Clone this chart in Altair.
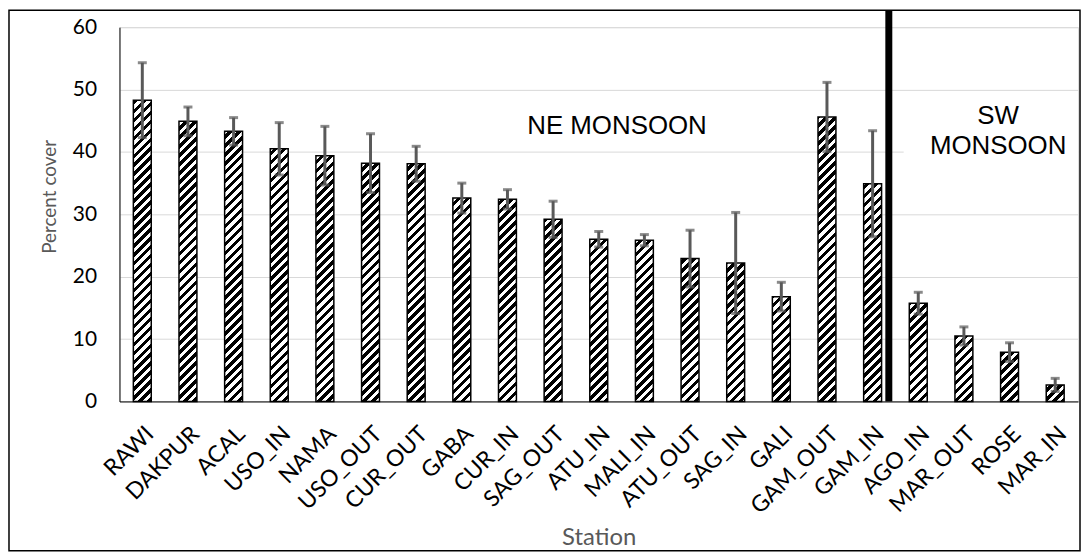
import math
import altair as alt
import pandas as pd

# ---------------- data ----------------
stations = ["RAWI", "DAKPUR", "ACAL", "USO_IN", "NAMA", "USO_OUT", "CUR_OUT",
            "GABA", "CUR_IN", "SAG_OUT", "ATU_IN", "MALI_IN", "ATU_OUT", "SAG_IN",
            "GALI", "GAM_OUT", "GAM_IN", "AGO_IN", "MAR_OUT", "ROSE", "MAR_IN"]
cover = [48.3, 44.9, 43.3, 40.5, 39.4, 38.2, 38.1, 32.6, 32.4, 29.2, 26.0,
         25.85, 22.9, 22.2, 16.8, 45.6, 34.9, 15.75, 10.5, 7.9, 2.65]
err = [6.0, 2.3, 2.2, 4.2, 4.7, 4.7, 2.8, 2.4, 1.55, 2.9, 1.25,
       0.9, 4.55, 8.1, 2.3, 5.55, 8.5, 1.75, 1.45, 1.5, 1.05]
y_ticks = [0, 10, 20, 30, 40, 50, 60]
ne_label = ["NE MONSOON"]
sw_label = [["SW", "MONSOON"]]

df = pd.DataFrame({"station": stations, "cover": cover, "err": err})

# ---------------- layout / style ----------------
W, H = 963, 376
PAD_BOTTOM = 151
YMAX = 60
BAR = 18
STEP = W / len(stations)
PERIOD = 9.0
BLACK = 4.5
ERR_COLOR = "#595959"
TITLE_COLOR = "#595959"

xscale = alt.Scale(domain=stations, paddingInner=0, paddingOuter=0)
yscale = alt.Scale(domain=[0, YMAX], nice=False)

x_axis = alt.Axis(labelAngle=-45, labelFont="Lato", labelFontSize=23,
                  labelColor="black", labelPadding=21, labelOverlap=False,
                  ticks=False, domainColor="black", domainWidth=1, grid=False,
                  title="Station", titleFont="Lato", titleFontSize=24,
                  titleFontWeight="normal", titleColor=TITLE_COLOR,
                  titleY=137, titleBaseline="middle")
y_axis = alt.Axis(values=y_ticks, grid=True, gridColor="#d9d9d9", gridWidth=1,
                  ticks=False, domainColor="black", domainWidth=1,
                  labelFont="Lato", labelFontSize=21, labelColor="black",
                  labelPadding=23, title="Percent cover", titleFont="Lato",
                  titleFontSize=19, titleFontWeight="normal",
                  titleColor=TITLE_COLOR, titleX=-60, titleY=170,
                  titleAlign="center", titleBaseline="bottom", titleAngle=270)


def is_black(g):
    return (g % PERIOD) < BLACK


def hatch(i, v):
    """Diagonal '/' hatch as a hard-stop linear gradient for a bar."""
    w = BAR
    h = max(v * H / YMAX, 0.5)
    x0 = i * STEP + (STEP - BAR) / 2
    L = w + h
    k2 = L / (w * w + h * h)
    gmin, gmax = x0 - h, x0 + w
    stops = [alt.GradientStop(offset=0, color="black" if is_black(gmin + 1e-6) else "white")]
    k = math.floor(gmin / PERIOD) - 1
    while k * PERIOD <= gmax + PERIOD:
        for p, c0, c1 in ((k * PERIOD, "white", "black"),
                          (k * PERIOD + BLACK, "black", "white")):
            t = (p - gmin) / L
            if 0 < t < 1:
                stops.append(alt.GradientStop(offset=round(t, 5), color=c0))
                stops.append(alt.GradientStop(offset=round(t, 5), color=c1))
        k += 1
    stops.append(alt.GradientStop(offset=1, color="black" if is_black(gmax - 1e-6) else "white"))
    return alt.LinearGradient(gradient="linear", stops=stops,
                              x1=0, y1=0, x2=round(w * k2, 6), y2=round(h * k2, 6))


base = alt.Chart(df)

# white box hiding part of the 40 gridline behind the SW label
mask = alt.Chart(pd.DataFrame({"station": ["AGO_IN"], "y0": [39.7], "y1": [40.3]})).mark_rect(
    fill="white").encode(
    x=alt.X("station:N", scale=xscale, bandPosition=0.18, axis=x_axis),
    x2=alt.value(W),
    y=alt.Y("y0:Q", scale=yscale, axis=y_axis),
    y2="y1:Q",
)

bars = []
for i, (s, v) in enumerate(zip(stations, cover)):
    bars.append(
        base.transform_filter(alt.datum.station == s).mark_bar(
            size=BAR, fill=hatch(i, v), stroke="black", strokeWidth=1.5
        ).encode(
            x=alt.X("station:N", scale=xscale, axis=x_axis, sort=stations),
            y=alt.Y("cover:Q", scale=yscale, axis=y_axis),
        )
    )

err_base = base.transform_calculate(lo="datum.cover - datum.err",
                                    hi="datum.cover + datum.err")
err_rule = err_base.mark_rule(color=ERR_COLOR, strokeWidth=3).encode(
    x=alt.X("station:N", scale=xscale, axis=x_axis),
    y=alt.Y("lo:Q", scale=yscale, axis=y_axis),
    y2="hi:Q",
)
err_lo = err_base.mark_tick(color=ERR_COLOR, size=9, thickness=3).encode(
    x=alt.X("station:N", scale=xscale, axis=x_axis),
    y=alt.Y("lo:Q", scale=yscale, axis=y_axis),
)
err_hi = err_base.mark_tick(color=ERR_COLOR, size=9, thickness=3).encode(
    x=alt.X("station:N", scale=xscale, axis=x_axis),
    y=alt.Y("hi:Q", scale=yscale, axis=y_axis),
)

divider = alt.Chart(pd.DataFrame({"station": ["GAM_IN"], "y": [0]})).mark_rule(
    color="black", strokeWidth=7).encode(
    x=alt.X("station:N", scale=xscale, bandPosition=0.855, axis=x_axis),
    y=alt.Y("y:Q", scale=yscale, axis=y_axis),
    y2=alt.value(-17),
)

ne_text = alt.Chart(pd.DataFrame({"station": ["ATU_IN"], "y": [44.2], "label": ne_label})).mark_text(
    font="Liberation Sans", fontSize=26, color="black", baseline="middle", align="center").encode(
    x=alt.X("station:N", scale=xscale, bandPosition=0.9, axis=x_axis),
    y=alt.Y("y:Q", scale=yscale, axis=y_axis),
    text="label:N",
)
sw_text = alt.Chart(pd.DataFrame({"station": ["ROSE"], "y": [45.8], "label": sw_label})).mark_text(
    font="Liberation Sans", fontSize=26, color="black", baseline="middle", align="center",
    lineHeight=30.5).encode(
    x=alt.X("station:N", scale=xscale, bandPosition=0.25, axis=x_axis),
    y=alt.Y("y:Q", scale=yscale, axis=y_axis),
    text="label",
)

border = alt.Chart(pd.DataFrame({"a": [0]})).mark_rect(
    fillOpacity=0, stroke="black", strokeWidth=1.5).encode(
    x=alt.value(-111), x2=alt.value(W + 2),
    y=alt.value(-17), y2=alt.value(H + PAD_BOTTOM - 1),
)

chart = alt.layer(mask, *bars, err_rule, err_lo, err_hi, divider, ne_text, sw_text, border).properties(
    width=W, height=H,
    padding={"left": 112, "top": 18, "right": 3, "bottom": PAD_BOTTOM},
    autosize=alt.AutoSizeParams(type="none"),
).configure_view(stroke=None).configure(font="Lato", background="white")

chart.save("out.html", embed_options={"renderer": "svg", "actions": False})
